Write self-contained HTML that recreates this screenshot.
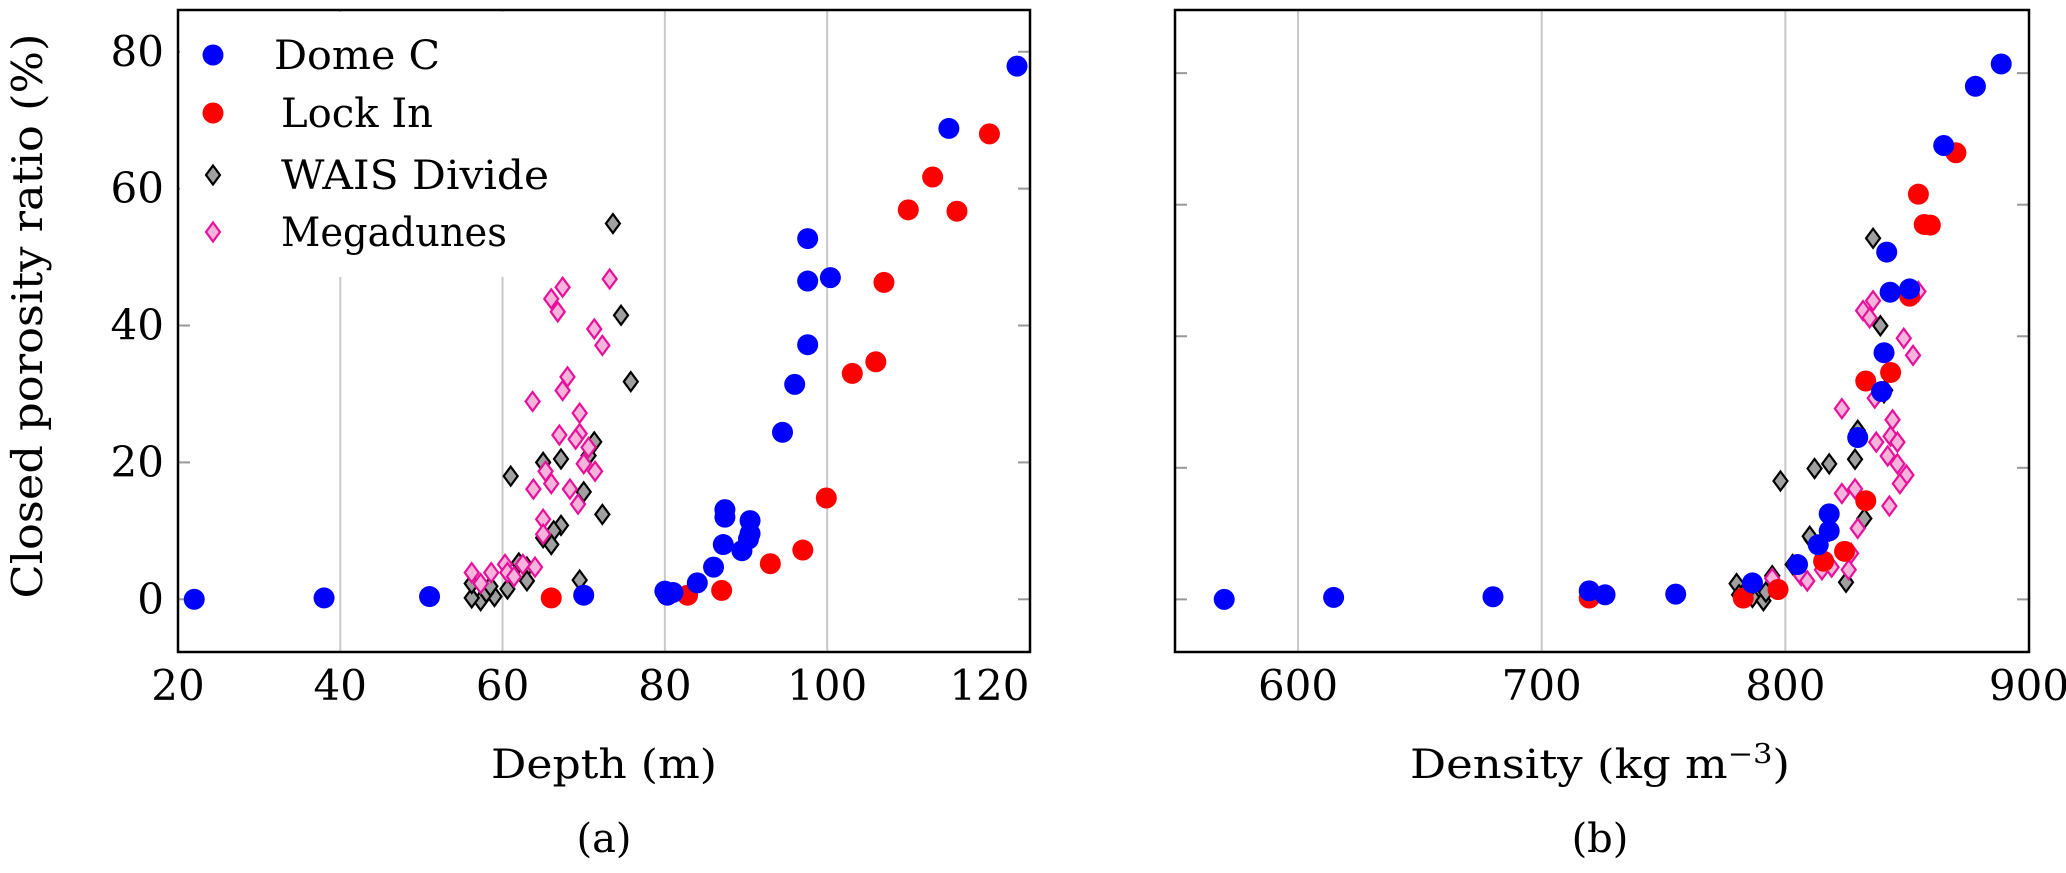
<!DOCTYPE html>
<html><head><meta charset="utf-8"><style>
html,body{margin:0;padding:0;background:#fff;}
svg, svg text{font-family:"DejaVu Serif","Liberation Serif",serif;}
</style></head><body>
<svg id="fig" width="2066" height="868" viewBox="0 0 2066 868" xmlns="http://www.w3.org/2000/svg" font-family="DejaVu Serif, Liberation Serif, serif">
<text transform="translate(42,316) rotate(-90)" text-anchor="middle" font-size="42" textLength="565" lengthAdjust="spacingAndGlyphs">Closed porosity ratio (%)</text>
<text x="604" y="778" text-anchor="middle" font-size="40" textLength="226" lengthAdjust="spacingAndGlyphs">Depth (m)</text>
<text x="1600" y="778" text-anchor="middle" font-size="40" textLength="380" lengthAdjust="spacingAndGlyphs">Density (kg m<tspan baseline-shift="super" font-size="27">−3</tspan>)</text>
<text x="604" y="852" text-anchor="middle" font-size="40">(a)</text>
<text x="1600" y="852" text-anchor="middle" font-size="40">(b)</text>
</svg>
<script>
// ---- Data (a): depth vs closed porosity ----
const domeDepth=[22,38,51,70,80,80.3,81,84,86,87.2,87.4,87.4,89.5,90.3,90.5,90.5,94.5,96,97.6,97.6,97.6,100.4,115,123.4];
const domeDepthCp=[0,0.2,0.4,0.6,1.2,0.6,1,2.4,4.7,8,12,13.1,7.1,8.8,9.6,11.5,24.4,31.4,37.2,46.5,52.7,47,68.8,77.9];
const lockDepth=[66,82.8,87,93,97,99.9,103.1,106,107,110,113,116,120];
const lockDepthCp=[0.2,0.6,1.3,5.2,7.2,14.8,33,34.7,46.3,56.9,61.7,56.7,68];
const waisDepth=[73.6,74.6,75.8,61,72.3,69.5,71.3,70.6,67.2,65,70,67.2,66.3,66,65,63,62,63,60.6,59,57.3,56.2,56.2,58,58.5];
const waisDepthCp=[54.9,41.5,31.8,18,12.4,2.8,23,21,20.5,20,15.7,10.8,10,8,9,4.7,5.3,2.7,1.5,0.4,-0.2,0.2,2.3,1,1.9];
const megaDepth=[73.2,67.4,66,66.8,71.3,72.3,68,67.4,63.7,69.5,67,69.5,69,70.6,70,71.4,65.3,63.8,66,68.3,69.3,65,65,62.5,60.3,60.6,58.6,56.2,57.3,61.4,64];
const megaDepthCp=[46.8,45.6,43.9,42,39.5,37.1,32.5,30.5,28.9,27.2,24,24.2,23.4,22.2,19.8,18.7,18.7,16.1,16.9,16.1,13.9,11.7,9.5,5.1,5.1,3.9,3.9,3.9,2.3,3.3,4.7];
// ---- Data (b): density vs closed porosity ----
const domeDens=[569.7,614.6,680,719.5,726,755,786.5,805,813.5,818,818,829.7,839.5,840.5,841.6,843,851,865,878,888.6];
const domeDensCp=[0,0.3,0.4,1.3,0.7,0.8,2.5,5.3,8.3,13,10.4,24.6,31.6,37.5,52.8,46.7,47.2,69,78,81.4];
const lockDens=[719.5,782.7,797,815.7,824.3,833,833,843.2,851,854.6,857,859.5,870];
const lockDensCp=[0.2,0.2,1.5,5.8,7.3,15,33.2,34.5,46.1,61.6,57,56.9,67.9];
const waisDens=[836,839,841,798,812,818,828.6,832.4,824.9,818,810.8,810,803,794.6,780,781,786.5,791,785,792,829.7,840.5];
const waisDensCp=[54.9,41.6,31.8,18,19.9,20.6,21.3,12.3,2.6,10.4,9.1,9.6,5.3,3.6,2.4,0.7,0.3,-0.2,1.5,1.1,25.7,31.4];
const megaDens=[854.6,836,831.9,834.6,848.6,852.4,836.7,823.2,844,843.2,837.3,846,842,846,849.7,823.2,828.6,847,842.7,829.7,827,815,806.5,809,819,794.6,826];
const megaDensCp=[46.8,45.4,43.9,42.8,39.7,37.1,30.6,29,27.3,24.8,23.9,23.9,21.8,20.6,18.9,16.1,16.8,17.6,14.2,10.8,7,4.5,3.6,2.8,4.9,3.2,4.5];
const xTicksA=[20,40,60,80,100,120];
const xTicksB=[600,700,800,900];
const yTicks=[0,20,40,60,80];

const NS="http://www.w3.org/2000/svg";
const svg=document.getElementById('fig');
function mk(tag,attrs,parent){const e=document.createElementNS(NS,tag);for(const k in attrs)e.setAttribute(k,attrs[k]);(parent||svg).appendChild(e);return e;}

const A={x0:178,x1:1030,y0:10,y1:652,xmin:20,xmax:125,ymin:-7.7,ymax:86.1};
const B={x0:1175,x1:2029,y0:10,y1:652,xmin:549.5,xmax:900,ymin:-8.0,ymax:89.6};
function sx(P,v){return P.x0+(v-P.xmin)/(P.xmax-P.xmin)*(P.x1-P.x0);}
function sy(P,v){return P.y1-(v-P.ymin)/(P.ymax-P.ymin)*(P.y1-P.y0);}

function diamond(g,x,y,fill,stroke){return mk('path',{d:`M${x},${y-9.5} L${x+7},${y} L${x},${y+9.5} L${x-7},${y} Z`,fill:fill,stroke:stroke,'stroke-width':2.2},g);}

function panel(P,name,xTicks,gridTicks,showYLabels){
  const g=mk('g',{});
  
  
  for(const t of gridTicks){const l=mk('line',{x1:sx(P,t),x2:sx(P,t),y1:P.y0,y2:P.y1,stroke:'#c8c8c8','stroke-width':2},g);
    
    }
  for(const t of yTicks){const y=sy(P,t);
    const a=mk('line',{x1:P.x0,x2:P.x0+12,y1:y,y2:y,stroke:'#999','stroke-width':2},g);
    
    
    const b=mk('line',{x1:P.x1-12,x2:P.x1,y1:y,y2:y,stroke:'#999','stroke-width':2},g);
    
    
    if(showYLabels){const tx=mk('text',{x:P.x0-14,y:y+14,'text-anchor':'end','font-size':42},g);tx.textContent=t;
      
      }
  }
  for(const t of xTicks){const tx=mk('text',{x:sx(P,t),y:700,'text-anchor':'middle','font-size':42},g);tx.textContent=t;
    
    }
  return g;
}
function series(P,g,xs,ys,kind,name){
  const sg=mk('g',{},g);
  
  
  for(let i=0;i<xs.length;i++){const x=sx(P,xs[i]),y=sy(P,ys[i]);let m;
    if(kind==='dome'){m=mk('circle',{cx:x,cy:y,r:10.5,fill:'#0000ff'},sg);}
    else if(kind==='lock'){m=mk('circle',{cx:x,cy:y,r:10.5,fill:'#ff0000'},sg);}
    else if(kind==='wais'){m=diamond(sg,x,y,'#a0a0a0','#000');}
    else {m=diamond(sg,x,y,'#f6b4dc','#e8109a');}
    
    
  }
}
const gA=panel(A,'panel-a-depth',xTicksA,[40,60,80,100],true);
const lb=mk('rect',{x:A.x0+2,y:A.y0+2,width:410,height:265,fill:'#fff'},gA);


series(A,gA,waisDepth,waisDepthCp,'wais','wais-divide-series-a');
series(A,gA,megaDepth,megaDepthCp,'mega','megadunes-series-a');
series(A,gA,lockDepth,lockDepthCp,'lock','lock-in-series-a');
series(A,gA,domeDepth,domeDepthCp,'dome','dome-c-series-a');
const gB=panel(B,'panel-b-density',xTicksB,[600,700,800],false);
series(B,gB,waisDens,waisDensCp,'wais','wais-divide-series-b');
series(B,gB,megaDens,megaDensCp,'mega','megadunes-series-b');
series(B,gB,lockDens,lockDensCp,'lock','lock-in-series-b');
series(B,gB,domeDens,domeDensCp,'dome','dome-c-series-b');
for(const [P,n] of [[A,'axes-frame-a'],[B,'axes-frame-b']]){
  const r=mk('rect',{x:P.x0,y:P.y0,width:P.x1-P.x0,height:P.y1-P.y0,fill:'none',stroke:'#000','stroke-width':2.5});
  
  
}
const legend=[['Dome C','dome',55,166],['Lock In','lock',113,152],['WAIS Divide','wais',175,268],['Megadunes','mega',232,226]];
const lg=mk('g',{});


for(const [lab,k,y,w] of legend){
  const e=mk('g',{},lg);
  
  
  if(k==='dome')mk('circle',{cx:213,cy:y,r:10.5,fill:'#0000ff'},e);
  else if(k==='lock')mk('circle',{cx:213,cy:y,r:10.5,fill:'#ff0000'},e);
  else if(k==='wais')diamond(e,213,y,'#a0a0a0','#000');
  else diamond(e,213,y,'#f6b4dc','#e8109a');
  const t=mk('text',{x:k==='dome'?274:281,y:y+14,'font-size':40,textLength:w,lengthAdjust:'spacingAndGlyphs'},e);t.textContent=lab;
}
</script>
</body></html>
